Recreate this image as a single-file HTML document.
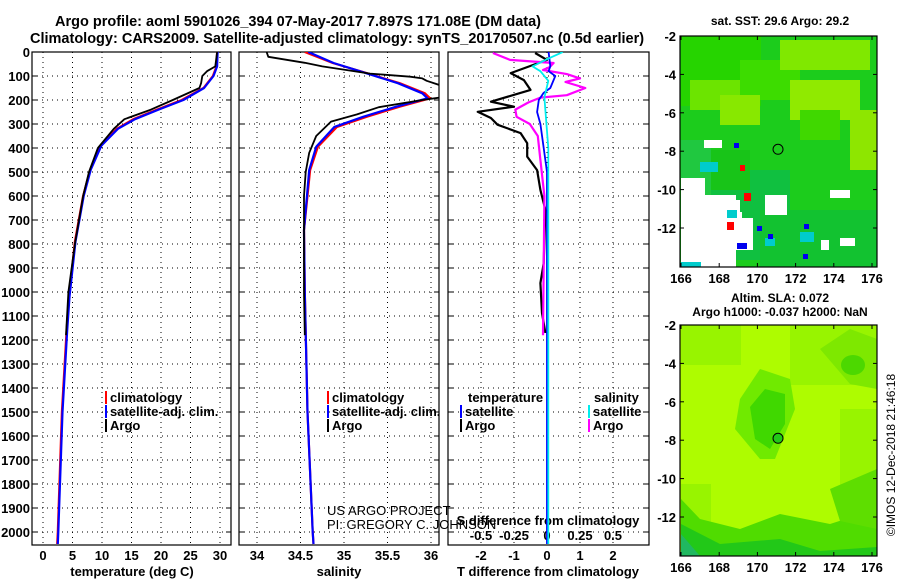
<!DOCTYPE html>
<html><head><meta charset="utf-8"><style>
html,body{margin:0;padding:0;background:#fff}
svg{display:block}
text{font-family:"Liberation Sans",sans-serif;font-weight:bold;font-size:13px;fill:#000}
.thin{font-weight:normal;font-size:13px}
</style></head><body>
<svg id="fig" width="900" height="580" viewBox="0 0 900 580" xmlns="http://www.w3.org/2000/svg">
<defs>
<clipPath id="c1"><rect x="32" y="52" width="199" height="493"/></clipPath>
<clipPath id="c2"><rect x="239" y="52" width="200" height="493"/></clipPath>
<clipPath id="c3"><rect x="448" y="52" width="201" height="493"/></clipPath>
</defs>
<text x="55" y="26" style="font-size:14.5px">Argo profile: aoml 5901026_394 07-May-2017 7.897S 171.08E (DM data)</text>
<text x="30" y="43" style="font-size:14.5px">Climatology: CARS2009. Satellite-adjusted climatology: synTS_20170507.nc (0.5d earlier)</text>
<g id="g"></g>
</svg>
<script>
// ---- data ----
const tDepth=[0,60,100,150,200,240,280,320,390,490,600,790,1020,1160,1500,2000,2050];
const tClim=[29.5,29.4,28.8,27.2,23.5,19.3,15.3,12.5,9.7,8.0,6.8,5.4,4.4,4.0,3.2,2.5,2.4];
const tSat=[29.6,29.5,28.9,27.3,23.8,19.6,15.6,12.7,9.9,8.1,6.9,5.5,4.5,4.1,3.3,2.6,2.5];
const argoDepth=[0,60,80,100,130,150,200,240,280,320,400,500,600,800,1000,1180];
const tArgo=[29.5,29.2,27.8,27.0,26.8,26.5,22.0,18.3,13.8,12.0,9.3,7.8,6.8,5.4,4.3,3.9];
const sDepth=[0,46,88,130,172,193,228,270,312,395,492,742,1000,1500,2000,2050];
const sClim=[34.55,34.87,35.26,35.64,35.93,35.99,35.64,35.26,34.92,34.70,34.61,34.54,34.55,34.58,34.64,34.65];
const sSat=[34.59,34.88,35.25,35.62,35.90,35.96,35.60,35.22,34.89,34.68,34.60,34.54,34.55,34.58,34.64,34.65];
const sArgoDepth=[0,20,45,60,90,103,110,120,150,180,200,230,260,290,350,420,500,600,1000,1180];
const sArgo=[34.11,34.13,34.55,34.75,35.3,35.76,35.9,35.95,36.2,36.3,35.9,35.4,35.15,34.85,34.68,34.6,34.56,34.54,34.54,34.55];
const dDepth=[4,33,88,117,158,207,228,249,275,303,338,380,436,492,575,658,880,963,1088,1171];
const dTArgo=[-0.36,0,-1.1,-0.7,-0.5,-1.7,-1.0,-2.1,-1.7,-1.5,-0.8,-0.6,-0.6,-0.3,-0.2,-0.05,-0.1,-0.2,-0.15,-0.05];
const dTSatDepth=[0,60,80,100,150,170,200,250,300,400,500,2050];
const dTSat=[0.05,0.1,0.05,0.25,0.1,-0.1,-0.25,-0.3,-0.2,-0.1,0,0];
const dSArgoDepth=[4,33,46,63,75,92,110,125,150,180,190,210,240,270,300,350,450,600,1180];
const dSArgo=[-0.41,-0.28,0.05,0.02,-0.03,0.15,0.25,0.14,0.29,0.15,-0.05,-0.14,-0.24,-0.23,-0.13,-0.07,-0.05,-0.02,-0.03];
const dSSatDepth=[0,30,60,80,120,190,400,2050];
const dSSat=[0.12,0,-0.11,-0.05,0.01,-0.02,0.01,0.01];
const depthTicks=[0,100,200,300,400,500,600,700,800,900,1000,1100,1200,1300,1400,1500,1600,1700,1800,1900,2000];
const tTicks=[0,5,10,15,20,25,30];
const sTicks=[34,34.5,35,35.5,36];
const dTTicks=[-2,-1,0,1,2];
const dSTicks=[-0.5,-0.25,0,0.25,0.5];
const lonTicks=[166,168,170,172,174,176];
const latTicks=[-2,-4,-6,-8,-10,-12];

// ---- helpers ----
const NS="http://www.w3.org/2000/svg";
const G=document.getElementById('g');
function mk(tag,attrs,parent){const e=document.createElementNS(NS,tag);for(const k in attrs)e.setAttribute(k,attrs[k]);(parent||G).appendChild(e);return e;}
const Y=d=>52+0.24*d;
const xT=t=>43+5.9*t;
const xS=s=>257+87*(s-34);
const xDT=v=>547+33*v;
const xDS=v=>547+132*v;
const P1={x0:32,x1:231},P2={x0:239,x1:439},P3={x0:448,x1:649},PT=52,PB=545;

function panel(P,name,xs,xf){
  const r=mk('rect',{x:P.x0,y:PT,width:P.x1-P.x0,height:PB-PT,fill:'none',stroke:'#000','stroke-width':1.2});
  
  
  xs.forEach(v=>{const x=xf(v);const l=mk('line',{x1:x,y1:PT,x2:x,y2:PB,stroke:'#000','stroke-dasharray':'1,4'});
    
    });
  depthTicks.forEach(d=>{const y=Y(d);const l=mk('line',{x1:P.x0,y1:y,x2:P.x1,y2:y,stroke:'#000','stroke-dasharray':'1,4'});
    
    
    mk('line',{x1:P.x0,y1:y,x2:P.x0+5,y2:y,stroke:'#000'});mk('line',{x1:P.x1-5,y1:y,x2:P.x1,y2:y,stroke:'#000'});});
}
function line(xf,vals,depths,col,w,name,clip){
  const pts=vals.map((v,i)=>xf(v).toFixed(1)+','+Y(depths[i]).toFixed(1)).join(' ');
  const p=mk('polyline',{points:pts,fill:'none',stroke:col,'stroke-width':w,'stroke-linejoin':'round','clip-path':'url(#'+clip+')'});
  
  
}
function txt(x,y,s,attrs,name){const t=mk('text',Object.assign({x:x,y:y},attrs||{}));t.textContent=s;
  
  return t;}

panel(P1,'temperature-panel',tTicks,xT);
panel(P2,'salinity-panel',sTicks,xS);
panel(P3,'difference-panel',dTTicks,xDT);

depthTicks.forEach(d=>txt(30,Y(d)+5,String(d),{'text-anchor':'end'},'depth-tick-label'));
tTicks.forEach(v=>txt(xT(v),560,String(v),{'text-anchor':'middle'},'temperature-tick-label'));
sTicks.forEach(v=>txt(xS(v),560,String(v),{'text-anchor':'middle'},'salinity-tick-label'));
dTTicks.forEach(v=>txt(xDT(v),560,String(v),{'text-anchor':'middle'},'t-diff-tick-label'));
dSTicks.forEach(v=>txt(xDS(v),540,String(v),{'text-anchor':'middle'},'s-diff-tick-label'));
txt(132,576,'temperature (deg C)',{'text-anchor':'middle'},'x-axis-title-temperature');
txt(339,576,'salinity',{'text-anchor':'middle'},'x-axis-title-salinity');
txt(548,576,'T difference from climatology',{'text-anchor':'middle'},'x-axis-title-t-diff');
txt(548,525,'S difference from climatology',{'text-anchor':'middle'},'x-axis-title-s-diff');

line(xT,tClim,tDepth,'#f00',2.2,'temperature-climatology-line','c1');
line(xT,tSat,tDepth,'#00f',2.2,'temperature-satellite-line','c1');
line(xT,tArgo,argoDepth,'#000',1.8,'temperature-argo-line','c1');
line(xS,sClim,sDepth,'#f00',2.2,'salinity-climatology-line','c2');
line(xS,sSat,sDepth,'#00f',2.2,'salinity-satellite-line','c2');
line(xS,sArgo,sArgoDepth,'#000',1.8,'salinity-argo-line','c2');
line(xDT,dTArgo,dDepth,'#000',2.2,'t-diff-argo-line','c3');
line(xDS,dSArgo,dSArgoDepth,'#f0f',2.2,'s-diff-argo-line','c3');
line(xDT,dTSat,dTSatDepth,'#00f',1.8,'t-diff-satellite-line','c3');
line(xDS,dSSat,dSSatDepth,'#0ee',1.8,'s-diff-satellite-line','c3');

function legend(x,y,col,label,name){
  mk('rect',{x:x,y:y-11,width:2,height:13,fill:col});
  txt(x+5,y,label,{},name);
}
legend(105,402,'#f00','climatology','legend-climatology');
legend(105,416,'#00f','satellite-adj. clim.','legend-satellite-adj-temp');
legend(105,430,'#000','Argo','legend-argo-temp');
legend(327,402,'#f00','climatology','legend-climatology-sal');
legend(327,416,'#00f','satellite-adj. clim.','legend-satellite-adj-sal');
legend(327,430,'#000','Argo','legend-argo-sal');
txt(468,402,'temperature',{},'legend-temperature-heading');
legend(460,416,'#00f','satellite','legend-t-satellite');
legend(460,430,'#000','Argo','legend-t-argo');
txt(594,402,'salinity',{},'legend-salinity-heading');
legend(588,416,'#0ee','satellite','legend-s-satellite');
legend(588,430,'#f0f','Argo','legend-s-argo');
txt(327,515,'US ARGO PROJECT',{class:'thin'},'credit-project');
txt(327,529,'PI: GREGORY C. JOHNSON',{class:'thin'},'credit-pi');

// ---- maps ----
const mLon=l=>681+19.1*(l-166);
const mLat=la=>36+19.2*(-2-la);
const markerLon=171.08, markerLat=-7.9;
function mapFrame(y0,name){
  const off=y0-36;
  const g=mk('g',{transform:'translate(0,'+off+')'});
  
  
  return g;
}
// SST map
const g1=mapFrame(36,'sst-map');
mk('rect',{x:680,y:36,width:197,height:231,fill:'#1ccc1c'},g1);
[[681,36,80,70,'#26d400'],[740,60,60,40,'#3ddc00'],[780,40,90,30,'#80e800'],[790,80,70,40,'#90ea00'],[690,80,50,30,'#6ce400'],[720,95,40,30,'#88e800'],[800,110,40,30,'#40d800'],[850,110,27,60,'#8ee600'],[700,170,90,90,'#10c040'],[690,150,60,40,'#18c418'],[760,210,117,57,'#12c230'],[681,140,30,60,'#20c840']].forEach(r=>mk('rect',{x:r[0],y:r[1],width:r[2],height:r[3],fill:r[4]},g1));
[[681,178,24,24],[681,195,55,72],[700,200,40,20],[735,218,18,32],[728,212,14,15],[765,195,22,20],[830,190,20,8],[840,238,15,8],[821,240,8,10],[704,140,18,8]].forEach(r=>mk('rect',{x:r[0],y:r[1],width:r[2],height:r[3],fill:'#fff'},g1));
[[700,162,18,10],[727,210,10,8],[765,238,10,8],[800,232,14,10],[681,262,20,5]].forEach(r=>mk('rect',{x:r[0],y:r[1],width:r[2],height:r[3],fill:'#00cccc'},g1));
[[727,222,7,8],[744,193,7,8],[740,165,5,6]].forEach(r=>mk('rect',{x:r[0],y:r[1],width:r[2],height:r[3],fill:'#f00'},g1));
[[737,243,10,6],[757,226,5,5],[768,234,5,5],[803,254,5,5],[804,224,5,5],[734,143,5,5]].forEach(r=>mk('rect',{x:r[0],y:r[1],width:r[2],height:r[3],fill:'#0000ee'},g1));
// SLA map
const g2=mapFrame(325,'sla-map');
mk('rect',{x:680,y:36,width:197,height:231,fill:'#aefc00'},g2);
[[681,36,60,40],[790,36,87,60],[840,120,37,100],[681,195,30,40]].forEach(r=>mk('rect',{x:r[0],y:r[1],width:r[2],height:r[3],fill:'#98f400'},g2));
mk('polygon',{points:'740,110 760,80 790,90 795,120 775,170 760,170 735,140',fill:'#70ea00'},g2);
mk('polygon',{points:'750,118 765,100 785,105 785,135 770,160 755,150',fill:'#40d800'},g2);
mk('polygon',{points:'820,60 850,40 877,50 877,100 850,95',fill:'#7ee800'},g2);
mk('ellipse',{cx:853,cy:76,rx:12,ry:10,fill:'#4cd800'},g2);
mk('polygon',{points:'681,210 700,230 740,240 780,225 830,235 877,220 877,267 681,267',fill:'#50dc00'},g2);
mk('polygon',{points:'681,235 720,255 780,250 820,262 877,258 877,267 681,267',fill:'#22c818'},g2);
mk('polygon',{points:'681,245 700,267 681,267',fill:'#20b860'},g2);
mk('polygon',{points:'830,200 877,180 877,240 840,232',fill:'#5ede00'},g2);

[[g1,36,'sst'],[g2,325,'sla']].forEach(([g,y0,n])=>{
  const fr=mk('rect',{x:680,y:36,width:197,height:231,fill:'none',stroke:'#000','stroke-width':1.2},g);
  
  
  const c=mk('circle',{cx:mLon(markerLon),cy:mLat(markerLat),r:5,fill:(n=='sla'?'#22c818':'none'),stroke:'#000','stroke-width':1},g);
  
  
  lonTicks.forEach(l=>{const x=mLon(l);mk('line',{x1:x,y1:267,x2:x,y2:263,stroke:'#000'},g);mk('line',{x1:x,y1:36,x2:x,y2:40,stroke:'#000'},g);
    const t=txt(x,283,String(l),{'text-anchor':'middle'},n+'-lon-tick-label');g.appendChild(t);});
  latTicks.forEach(la=>{const y=mLat(la);mk('line',{x1:680,y1:y,x2:684,y2:y,stroke:'#000'},g);mk('line',{x1:873,y1:y,x2:877,y2:y,stroke:'#000'},g);
    const t=txt(676,y+5,String(la),{'text-anchor':'end'},n+'-lat-tick-label');g.appendChild(t);});
});
txt(780,25,'sat. SST: 29.6 Argo: 29.2',{'text-anchor':'middle','style':'font-size:12px'},'sst-map-title');
txt(780,302,'Altim. SLA: 0.072',{'text-anchor':'middle','style':'font-size:12px'},'sla-map-title');
txt(780,316,'Argo h1000: -0.037 h2000: NaN',{'text-anchor':'middle','style':'font-size:12px'},'sla-map-subtitle');
txt(0,0,'©IMOS 12-Dec-2018 21:46:18',{'text-anchor':'middle','transform':'translate(895,455) rotate(-90)','style':'font-weight:normal;font-size:12px'},'imos-timestamp');
</script>
</body></html>
